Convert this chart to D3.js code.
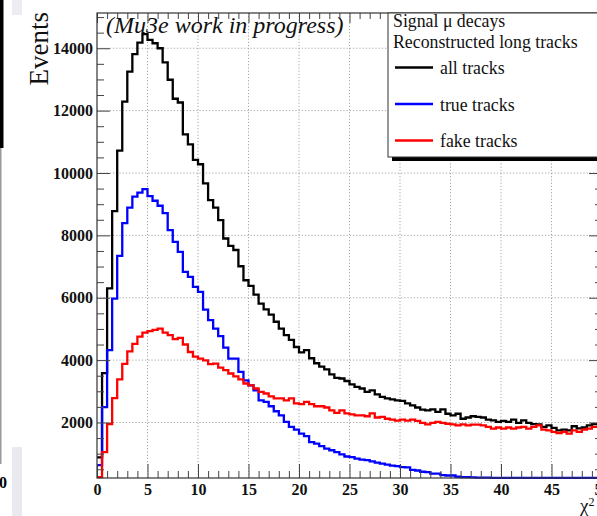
<!DOCTYPE html>
<html><head><meta charset="utf-8">
<script src="https://cdn.jsdelivr.net/npm/d3@7"></script>
<style>
html,body{margin:0;padding:0;background:#fff;}
svg{display:block;}
</style></head><body>
<svg id="c" width="597" height="516"></svg>
<script>
// Track chi2 distributions, 100 bins of width 0.5 from 0 to 50 (entries per bin)
const allTracks = [
  880, 3580, 6300, 8780, 10720, 12290, 13250, 13810, 14180, 14450,
  14270, 14160, 14000, 13550, 12990, 12380, 12260, 11240, 10920, 10420,
  10280, 9670, 9130, 8890, 8490, 7900, 7660, 7530, 7010, 6560,
  6380, 6100, 5810, 5630, 5460, 5230, 5010, 4800, 4650, 4420,
  4250, 4320, 4060, 3900, 3790, 3700, 3540, 3430, 3410, 3330,
  3220, 3140, 3090, 2980, 3030, 2900, 2820, 2770, 2740, 2710,
  2690, 2610, 2550, 2480, 2410, 2390, 2420, 2340, 2420, 2280,
  2230, 2280, 2120, 2160, 2200, 2180, 2160, 2090, 2070, 2020,
  2050, 2020, 2090, 1990, 2070, 1990, 1950, 1940, 1860, 1910,
  1830, 1750, 1770, 1750, 1880, 1810, 1840, 1910, 1950, 1950
];
const trueTracks = [
  630, 2490, 4320, 5970, 7340, 8390, 8890, 9240, 9370, 9480,
  9260, 9110, 8950, 8710, 8170, 7790, 7470, 6830, 6670, 6350,
  6190, 5620, 5280, 5010, 4770, 4400, 4050, 4050, 3620, 3350,
  3190, 3030, 2710, 2660, 2520, 2360, 2230, 2020, 1860, 1770,
  1640, 1560, 1370, 1320, 1240, 1160, 1110, 1050, 980, 910,
  890, 840, 810, 790, 750, 710, 680, 650, 620, 600,
  570, 560, 480, 460, 420, 410, 360, 360, 310, 300,
  300, 260, 250, 250, 240, 235, 230, 230, 225, 225,
  222, 210, 200, 195, 185, 180, 170, 165, 160, 150,
  145, 140, 135, 130, 125, 120, 115, 110, 105, 100
];
const fakeTracks = [
  250, 1050, 1950, 2780, 3380, 3880, 4280, 4520, 4750, 4880,
  4930, 4970, 5010, 4880, 4800, 4670, 4710, 4500, 4260, 4110,
  4050, 3990, 3870, 3890, 3760, 3680, 3570, 3480, 3380, 3250,
  3190, 3090, 2980, 2930, 2840, 2770, 2770, 2710, 2770, 2610,
  2590, 2660, 2590, 2520, 2520, 2480, 2390, 2310, 2390, 2290,
  2260, 2230, 2230, 2200, 2290, 2160, 2180, 2120, 2090, 2060,
  2090, 2060, 2090, 2050, 1990, 1940, 1990, 2020, 1990, 1960,
  1940, 1910, 1940, 1910, 1930, 1930, 1910, 1860, 1800, 1840,
  1800, 1840, 1800, 1840, 1860, 1800, 1860, 1910, 1770, 1750,
  1700, 1660, 1700, 1640, 1750, 1700, 1770, 1800, 1860, 1860
];
const seriesNames = ["all tracks", "true tracks", "fake tracks"];
const seriesColors = ["#000000", "#0000ff", "#ff0000"];
const legendHeader = ["Signal \u03bc decays", "Reconstructed long tracks"];
const xMajorTicks = [0, 5, 10, 15, 20, 25, 30, 35, 40, 45, 50];
const yMajorTicks = [2000, 4000, 6000, 8000, 10000, 12000, 14000];
const binWidth = 0.5;
const xRange = [0, 50];
const yRange = [220, 15130];

const serif = "'Liberation Serif', 'Times New Roman', serif";
const svg = d3.select("#c");
const frame = {left: 97, right: 602, top: 13, bottom: 478};
const x = d3.scaleLinear().domain(xRange).range([frame.left, frame.right]);
const y = d3.scaleLinear().domain(yRange).range([frame.bottom, frame.top]).clamp(true);

// canvas edge decorations (neighbouring panel remnants)
svg.append("rect").attr("x", 0).attr("y", 0).attr("width", 3.5).attr("height", 148).attr("fill", "#000");
svg.append("rect").attr("x", 0).attr("y", 148).attr("width", 1.5).attr("height", 316).attr("fill", "#9a9a9a");
svg.append("rect").attr("x", 12).attr("y", 0).attr("width", 10).attr("height", 15).attr("fill", "#ececf2");
svg.append("rect").attr("x", 12).attr("y", 447).attr("width", 10).attr("height", 69).attr("fill", "#e9e9f0");
svg.append("text").attr("x", 7).attr("y", 488).attr("text-anchor", "end")
  .attr("font-family", serif).attr("font-weight", "bold").attr("font-size", 16).text("0");

// dotted grid
const grid = svg.append("g").attr("stroke", "#9c9c9c").attr("stroke-width", 0.9).attr("stroke-dasharray", "1.2,2");
grid.selectAll("line.gx").data(xMajorTicks.filter(d => d > xRange[0] && d < xRange[1])).join("line")
  .attr("x1", d => x(d)).attr("x2", d => x(d)).attr("y1", frame.top).attr("y2", frame.bottom);
grid.selectAll("line.gy").data(yMajorTicks).join("line")
  .attr("x1", frame.left).attr("x2", frame.right).attr("y1", d => y(d)).attr("y2", d => y(d));

// histograms
svg.append("clipPath").attr("id", "plotclip").append("rect")
  .attr("x", frame.left).attr("y", frame.top - 2)
  .attr("width", frame.right - frame.left).attr("height", frame.bottom - frame.top + 3);
const step = d3.line().x(d => x(d[0])).y(d => y(d[1]));
const series = [allTracks, trueTracks, fakeTracks];
svg.append("g").attr("clip-path", "url(#plotclip)")
  .selectAll("path").data(series).join("path")
  .attr("fill", "none")
  .attr("stroke", (d, i) => seriesColors[i])
  .attr("stroke-width", 2.3)
  .attr("stroke-linejoin", "miter")
  .attr("d", d => step(d.flatMap((v, i) => [[xRange[0] + i * binWidth, v], [xRange[0] + (i + 1) * binWidth, v]])));

// axes with inward ticks on all four sides
const xMinor = d3.range(xRange[0], xRange[1] + 1).filter(d => d % 5 !== 0);
const yMinor = d3.range(500, yRange[1], 500).filter(d => d % 2000 !== 0 && d > yRange[0]);
const tickColor = "#444";
function styleAxis(g) {
  g.select(".domain").remove();
  g.selectAll(".tick line").attr("stroke", tickColor).attr("stroke-width", 1);
  g.selectAll(".tick text").attr("font-family", serif).attr("font-weight", "bold")
    .attr("font-size", 16).attr("fill", "#111");
}
svg.append("g").attr("transform", `translate(0,${frame.bottom})`)
  .call(d3.axisBottom(x).tickValues(xMajorTicks).tickSize(-14).tickPadding(6).tickFormat(d3.format("d")))
  .call(styleAxis);
svg.append("g").attr("transform", `translate(0,${frame.bottom})`)
  .call(d3.axisBottom(x).tickValues(xMinor).tickSize(-7).tickFormat(""))
  .call(styleAxis);
svg.append("g").attr("transform", `translate(0,${frame.top})`)
  .call(d3.axisTop(x).tickValues(xMajorTicks).tickSize(-10).tickFormat(""))
  .call(styleAxis);
svg.append("g").attr("transform", `translate(0,${frame.top})`)
  .call(d3.axisTop(x).tickValues(xMinor).tickSize(-6).tickFormat(""))
  .call(styleAxis);
svg.append("g").attr("transform", `translate(${frame.left},0)`)
  .call(d3.axisLeft(y).tickValues(yMajorTicks).tickSize(-13).tickPadding(4).tickFormat(d3.format("d")))
  .call(styleAxis);
svg.append("g").attr("transform", `translate(${frame.left},0)`)
  .call(d3.axisLeft(y).tickValues(yMinor).tickSize(-7).tickFormat(""))
  .call(styleAxis);
svg.append("g").attr("transform", `translate(${frame.right},0)`)
  .call(d3.axisRight(y).tickValues(yMajorTicks).tickSize(-13).tickFormat(""))
  .call(styleAxis);
svg.append("g").attr("transform", `translate(${frame.right},0)`)
  .call(d3.axisRight(y).tickValues(yMinor).tickSize(-7).tickFormat(""))
  .call(styleAxis);

// frame
svg.append("rect").attr("x", frame.left).attr("y", frame.top)
  .attr("width", frame.right - frame.left).attr("height", frame.bottom - frame.top)
  .attr("fill", "none").attr("stroke", "#333").attr("stroke-width", 1.2);

// axis titles
svg.append("text").attr("transform", `translate(48,12) rotate(-90)`)
  .attr("text-anchor", "end").attr("font-family", serif).attr("font-size", 27).attr("fill", "#111")
  .text("Events");
const xt = svg.append("text").attr("x", 580).attr("y", 512)
  .attr("font-family", serif).attr("font-size", 19).attr("fill", "#111");
xt.append("tspan").text("\u03c7");
xt.append("tspan").attr("dy", -6).attr("font-size", 12).text("2");

// status label
svg.append("text").attr("x", 106).attr("y", 33)
  .attr("font-family", serif).attr("font-style", "italic").attr("font-size", 24).attr("fill", "#111")
  .text("(Mu3e work in progress)");

// legend
const leg = {x: 388, y: 13, w: 260, h: 144};
svg.append("rect").attr("x", leg.x + 4).attr("y", leg.y + 4).attr("width", leg.w).attr("height", leg.h).attr("fill", "#000");
svg.append("rect").attr("x", leg.x).attr("y", leg.y).attr("width", leg.w).attr("height", leg.h)
  .attr("fill", "#fff").attr("stroke", "#333").attr("stroke-width", 1);
svg.selectAll("text.lh").data(legendHeader).join("text")
  .attr("x", leg.x + 5).attr("y", (d, i) => leg.y + 14 + i * 21)
  .attr("font-family", serif).attr("font-size", 17.8).attr("fill", "#111").text(d => d);
const entries = svg.selectAll("g.le").data(seriesNames).join("g")
  .attr("transform", (d, i) => `translate(${leg.x + 7},${leg.y + 54.5 + i * 36.5})`);
entries.append("line").attr("x1", 0).attr("x2", 38).attr("y1", 0).attr("y2", 0)
  .attr("stroke", (d, i) => seriesColors[i]).attr("stroke-width", 2.3);
entries.append("text").attr("x", 45).attr("y", 6.5)
  .attr("font-family", serif).attr("font-size", 17.8).attr("fill", "#111").text(d => d);
</script>
</body></html>
